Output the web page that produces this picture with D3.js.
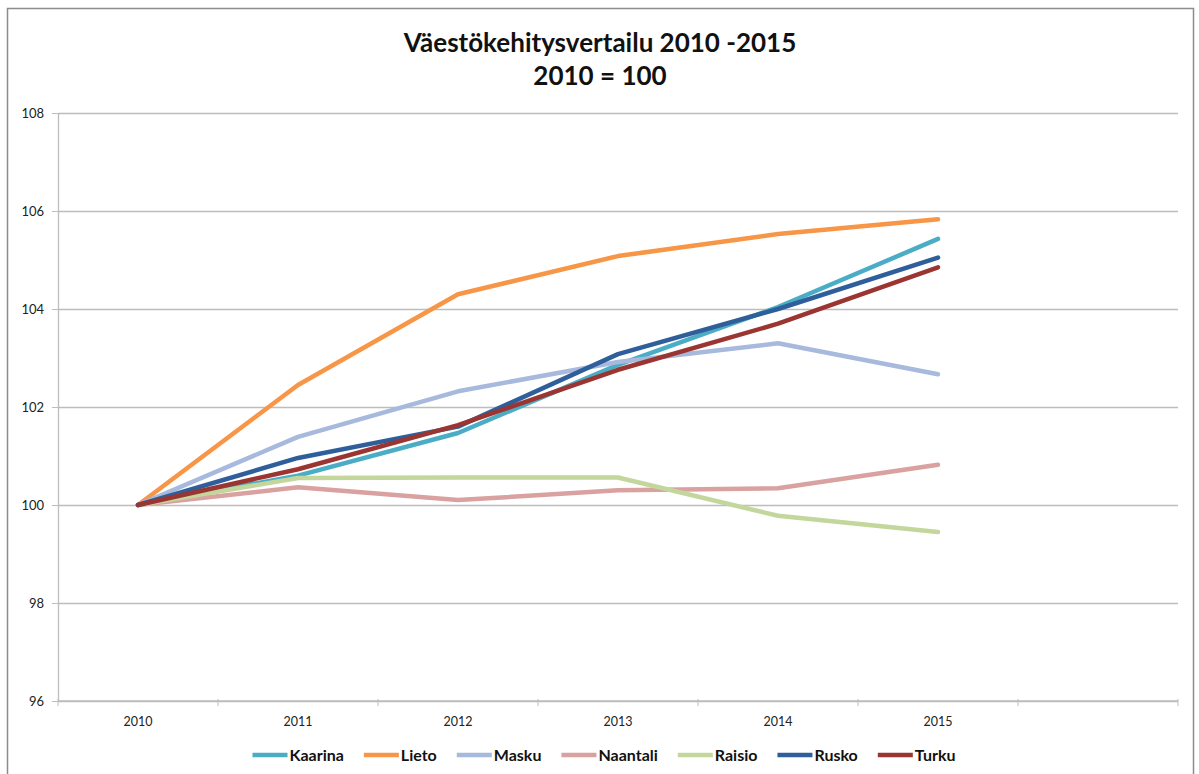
<!DOCTYPE html>
<html>
<head>
<meta charset="utf-8">
<script src="https://cdn.jsdelivr.net/npm/d3@7"></script>
<style>
  body { margin: 0; background: #fff; }
  svg { display: block; }
</style>
</head>
<body>
<svg width="1199" height="774"></svg>
<script>
// chart data: index 2010 = 100
const years = ["2010", "2011", "2012", "2013", "2014", "2015"];
const towns = ["Kaarina", "Lieto", "Masku", "Naantali", "Raisio", "Rusko", "Turku"];
const kaarina  = [100, 100.6, 101.47, 102.86, 104.04, 105.43];
const lieto    = [100, 102.45, 104.3, 105.08, 105.53, 105.83];
const masku    = [100, 101.39, 102.32, 102.92, 103.3, 102.67];
const naantali = [100, 100.36, 100.1, 100.3, 100.34, 100.82];
const raisio   = [100, 100.55, 100.56, 100.56, 99.78, 99.45];
const rusko    = [100, 100.96, 101.6, 103.08, 104.0, 105.05];
const turku    = [100, 100.73, 101.63, 102.76, 103.7, 104.85];
const yTicks = [96, 98, 100, 102, 104, 106, 108];
const colors = ["#4bacc6", "#f79646", "#a7b9dc", "#d9a1a0", "#c3d69b", "#2f5f9a", "#9b3532"];

const series = [kaarina, lieto, masku, naantali, raisio, rusko, turku];

const svg = d3.select("svg");
const plotL = 58, plotR = 1178, plotT = 113, plotB = 701;

// outer frame
svg.append("rect")
  .attr("x", 7.5).attr("y", 8.5)
  .attr("width", 1186).attr("height", 775)
  .attr("fill", "none")
  .attr("stroke", "#8c8c8c")
  .attr("stroke-width", 1.5);

// one blank slot after 2015, like the original sheet
const x = d3.scaleBand()
  .domain(years.concat([" "]))
  .range([plotL, plotR]);

const y = d3.scaleLinear()
  .domain([96, 108])
  .range([plotB, plotT]);

// gridlines
svg.append("g")
  .attr("transform", "translate(" + plotL + ",0)")
  .call(d3.axisLeft(y).tickValues(yTicks).tickSize(-(plotR - plotL)).tickFormat(""))
  .call(g => g.select(".domain").remove())
  .selectAll("line")
    .attr("stroke", "#bdbdbd")
    .attr("stroke-width", 1.3);

// y axis
svg.append("g")
  .attr("transform", "translate(" + plotL + ",0)")
  .call(d3.axisLeft(y).tickValues(yTicks).tickSize(6).tickPadding(8).tickSizeOuter(0))
  .call(g => g.select(".domain").attr("stroke", "#bdbdbd").attr("stroke-width", 1.3))
  .call(g => g.selectAll("line").attr("stroke", "#bdbdbd"))
  .call(g => g.selectAll("text")
    .attr("font-family", "Lato, 'Open Sans', sans-serif")
    .attr("font-size", "13px")
    .attr("fill", "#222"));

// x axis
const xAxis = svg.append("g").attr("transform", "translate(0," + plotB + ")");
xAxis.append("line")
  .attr("x1", plotL).attr("x2", plotR)
  .attr("stroke", "#bdbdbd").attr("stroke-width", 1.3);
xAxis.selectAll(".tk")
  .data(x.domain().concat(["end"]))
  .join("line")
    .attr("class", "tk")
    .attr("x1", d => d === "end" ? plotR : x(d))
    .attr("x2", d => d === "end" ? plotR : x(d))
    .attr("y1", -2).attr("y2", 5)
    .attr("stroke", "#bdbdbd");
xAxis.selectAll("text")
  .data(years)
  .join("text")
    .attr("x", d => x(d) + x.bandwidth() / 2)
    .attr("y", 25)
    .attr("text-anchor", "middle")
    .attr("font-family", "Lato, 'Open Sans', sans-serif")
    .attr("font-size", "12.5px")
    .attr("fill", "#222")
    .text(d => d);

// lines
const line = d3.line()
  .x((d, i) => x(years[i]) + x.bandwidth() / 2)
  .y(d => y(d));

svg.append("g")
  .selectAll("path")
  .data(series)
  .join("path")
    .attr("d", line)
    .attr("fill", "none")
    .attr("stroke", (d, i) => colors[i])
    .attr("stroke-width", 4.5)
    .attr("stroke-linejoin", "round")
    .attr("stroke-linecap", "round");

// title
const title = svg.append("text")
  .attr("text-anchor", "middle")
  .attr("font-family", "Lato, 'Open Sans', sans-serif")
  .attr("font-weight", "bold")
  .attr("font-size", "26px")
  .attr("fill", "#111");
title.append("tspan").attr("x", 600).attr("y", 52).text("Väestökehitysvertailu 2010 -2015");
title.append("tspan").attr("x", 600).attr("y", 85).text("2010 = 100");

// legend
const legend = svg.append("g");
const items = legend.selectAll("g")
  .data(towns)
  .join("g");
items.append("line")
  .attr("x1", 0).attr("x2", 35)
  .attr("y1", 0).attr("y2", 0)
  .attr("stroke", (d, i) => colors[i])
  .attr("stroke-width", 4.5);
items.append("text")
  .attr("x", 37)
  .attr("y", 6)
  .attr("font-family", "Lato, 'Open Sans', sans-serif")
  .attr("font-weight", "bold")
  .attr("font-size", "16px")
  .attr("fill", "#111")
  .text(d => d);

let pos = 0;
items.each(function() {
  d3.select(this).attr("transform", "translate(" + pos + ",0)");
  pos += this.getBBox().width + 20;
});
const total = pos - 20;
legend.attr("transform", "translate(" + (604 - total / 2) + ",755)");
</script>
</body>
</html>
